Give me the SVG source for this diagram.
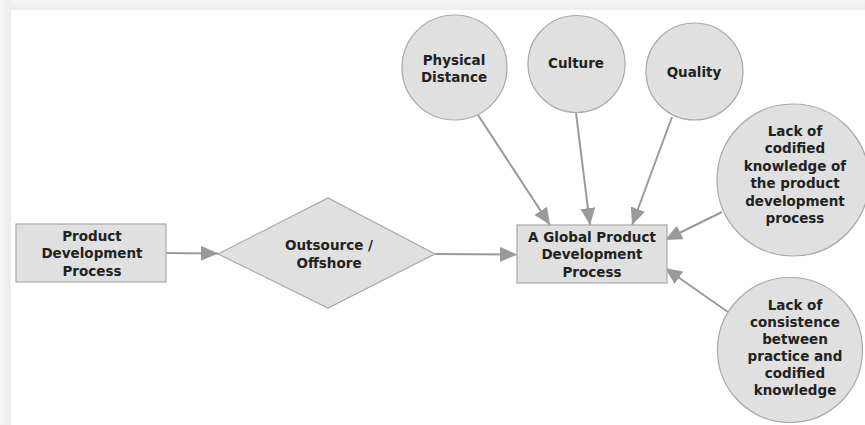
<svg xmlns="http://www.w3.org/2000/svg" width="865" height="425" viewBox="0 0 865 425">
  <defs>
    <marker id="arr" markerUnits="userSpaceOnUse" markerWidth="18" markerHeight="15" refX="17" refY="7.5" orient="auto">
      <path d="M0,0 L17,7.5 L0,15 z" fill="#9a9a9a"/>
    </marker>
    <linearGradient id="topband" x1="0" y1="0" x2="0" y2="1">
      <stop offset="0" stop-color="#f4f4f4"/>
      <stop offset="1" stop-color="#ececec"/>
    </linearGradient>
    <linearGradient id="leftband" x1="0" y1="0" x2="1" y2="0">
      <stop offset="0" stop-color="#f6f6f6"/>
      <stop offset="1" stop-color="#ececec"/>
    </linearGradient>
  </defs>
  <style>
    .shape { fill: #e0e0e0; stroke: #a8a8a8; stroke-width: 1.2; }
    .conn { stroke: #9a9a9a; stroke-width: 2; fill: none; marker-end: url(#arr); }
    text { font-family: "DejaVu Sans", Verdana, sans-serif; font-weight: bold; font-size: 13.5px; fill: #222; text-anchor: middle; }
  </style>
  <rect x="0" y="0" width="865" height="425" fill="#ffffff"/>
  <rect x="0" y="0" width="865" height="10" fill="url(#topband)"/>
  <rect x="0" y="0" width="11" height="425" fill="url(#leftband)"/>

  <g id="connectors">
    <line class="conn" x1="166" y1="253" x2="218" y2="253.5"/>
    <line class="conn" x1="435" y1="254" x2="517" y2="254.5"/>
    <line class="conn" x1="478" y1="115" x2="550" y2="225"/>
    <line class="conn" x1="576" y1="113" x2="590" y2="225"/>
    <line class="conn" x1="672" y1="117" x2="632" y2="225"/>
    <line class="conn" x1="722" y1="212" x2="665" y2="240"/>
    <line class="conn" x1="728" y1="312" x2="665" y2="268"/>
  </g>

  <g id="pdp">
    <rect class="shape" x="16" y="224" width="150" height="58"/>
    <text x="92" y="240.5">Product</text>
    <text x="92" y="258">Development</text>
    <text x="92" y="275.5">Process</text>
  </g>

  <g id="outsource">
    <polygon class="shape" points="218,254 328,198 435,254 328,308"/>
    <text x="329" y="250">Outsource /</text>
    <text x="329" y="268">Offshore</text>
  </g>

  <g id="gpdp">
    <rect class="shape" x="517" y="225" width="150" height="58"/>
    <text x="592" y="241.5">A Global Product</text>
    <text x="592" y="259">Development</text>
    <text x="592" y="276.5">Process</text>
  </g>

  <g id="physical">
    <circle class="shape" cx="454.5" cy="67.5" r="52.5"/>
    <text x="454" y="64.5">Physical</text>
    <text x="454" y="82">Distance</text>
  </g>

  <g id="culture">
    <circle class="shape" cx="576.5" cy="64" r="48.5"/>
    <text x="576" y="68">Culture</text>
  </g>

  <g id="quality">
    <circle class="shape" cx="694.5" cy="71.5" r="48.5"/>
    <text x="694" y="76.5">Quality</text>
  </g>

  <g id="codified">
    <circle class="shape" cx="793" cy="180" r="76"/>
    <text x="795" y="135.5">Lack of</text>
    <text x="795" y="153">codified</text>
    <text x="795" y="170.5">knowledge of</text>
    <text x="795" y="188">the product</text>
    <text x="795" y="205.5">development</text>
    <text x="795" y="223">process</text>
  </g>

  <g id="consistence">
    <circle class="shape" cx="790" cy="350" r="72.5"/>
    <text x="795" y="309.5">Lack of</text>
    <text x="795" y="326.5">consistence</text>
    <text x="795" y="343.5">between</text>
    <text x="795" y="360.5">practice and</text>
    <text x="795" y="377.5">codified</text>
    <text x="795" y="394.5">knowledge</text>
  </g>
</svg>
